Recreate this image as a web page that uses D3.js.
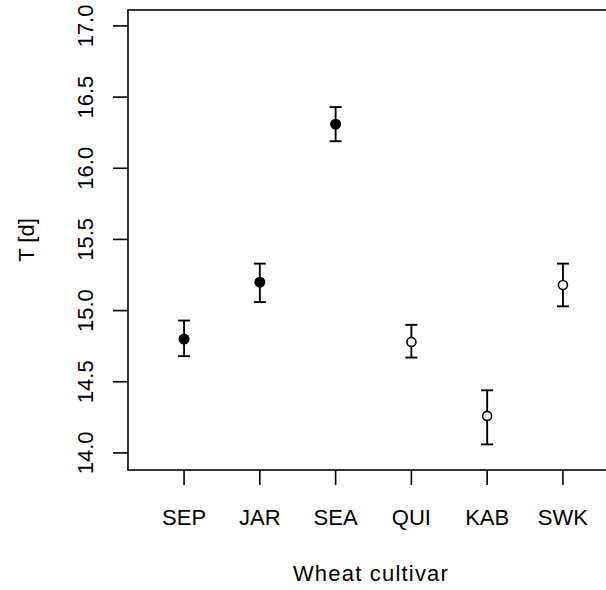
<!DOCTYPE html>
<html lang="en">
<head>
<meta charset="UTF-8">
<title>T by wheat cultivar</title>
<style>
  body { margin: 0; background: #fff; overflow: hidden; }
  text { font-family: 'Liberation Sans', Arial, sans-serif; fill: #000; }
</style>
<script src="https://d3js.org/d3.v7.min.js"></script>
</head>
<body>
<div id="chart"></div>
<script>
const cultivars = ["SEP", "JAR", "SEA", "QUI", "KAB", "SWK"];
const means = [14.80, 15.20, 16.31, 14.78, 14.26, 15.18];
const lower = [14.68, 15.06, 16.19, 14.67, 14.06, 15.03];
const upper = [14.93, 15.33, 16.43, 14.90, 14.44, 15.33];
const filled = [true, true, true, false, false, false];
const yTicks = [14.0, 14.5, 15.0, 15.5, 16.0, 16.5, 17.0];

const width = 606, height = 590;
const fontSize = 22;

const svg = d3.select("#chart").append("svg")
    .attr("width", width)
    .attr("height", height);

// plot box (right side runs off the picture, as in the original)
const boxLeft = 128, boxTop = 10, boxBottom = 470, boxRight = 619;

const x = d3.scaleLinear().domain([0.26, 6.74]).range([boxLeft, boxRight]);
const y = d3.scaleLinear().domain([13.88, 17.112]).range([boxBottom, boxTop]);

svg.append("rect")
    .attr("x", boxLeft).attr("y", boxTop)
    .attr("width", boxRight - boxLeft).attr("height", boxBottom - boxTop)
    .attr("fill", "none").attr("stroke", "#000").attr("stroke-width", 1.6);

// y axis
const yAxis = svg.append("g");
yAxis.selectAll("line").data(yTicks).enter().append("line")
    .attr("x1", boxLeft - 15).attr("x2", boxLeft)
    .attr("y1", d => y(d)).attr("y2", d => y(d))
    .attr("stroke", "#000").attr("stroke-width", 1.6);
yAxis.selectAll("text").data(yTicks).enter().append("text")
    .attr("transform", d => `translate(85,${y(d)}) rotate(-90)`)
    .attr("text-anchor", "middle")
    .attr("dy", "0.36em")
    .attr("font-size", fontSize)
    .text(d => d.toFixed(1));

// x axis
const xAxis = svg.append("g");
xAxis.selectAll("line").data(cultivars).enter().append("line")
    .attr("x1", (d, i) => x(i + 1)).attr("x2", (d, i) => x(i + 1))
    .attr("y1", boxBottom).attr("y2", boxBottom + 15)
    .attr("stroke", "#000").attr("stroke-width", 1.6);
xAxis.selectAll("text").data(cultivars).enter().append("text")
    .attr("x", (d, i) => x(i + 1))
    .attr("y", 525)
    .attr("text-anchor", "middle")
    .attr("font-size", fontSize)
    .text(d => d);

// axis titles
svg.append("text")
    .attr("x", 371)
    .attr("y", 581)
    .attr("text-anchor", "middle")
    .attr("font-size", fontSize)
    .attr("letter-spacing", 1.2)
    .text("Wheat cultivar");

svg.append("text")
    .attr("transform", `translate(26,240) rotate(-90)`)
    .attr("text-anchor", "middle")
    .attr("dy", "0.36em")
    .attr("font-size", fontSize)
    .text("T [d]");

// error bars
const bars = svg.append("g").attr("stroke", "#000").attr("stroke-width", 1.9);
cultivars.forEach((c, i) => {
    const cx = x(i + 1);
    bars.append("line").attr("x1", cx).attr("x2", cx)
        .attr("y1", y(lower[i])).attr("y2", y(upper[i]));
    bars.append("line").attr("x1", cx - 6).attr("x2", cx + 6)
        .attr("y1", y(lower[i])).attr("y2", y(lower[i]));
    bars.append("line").attr("x1", cx - 6).attr("x2", cx + 6)
        .attr("y1", y(upper[i])).attr("y2", y(upper[i]));
});

// points
svg.selectAll(".pt").data(cultivars).enter().append("circle")
    .attr("class", "pt")
    .attr("cx", (d, i) => x(i + 1))
    .attr("cy", (d, i) => y(means[i]))
    .attr("r", (d, i) => filled[i] ? 5.5 : 4.5)
    .attr("fill", (d, i) => filled[i] ? "#000" : "#fff")
    .attr("stroke", "#000")
    .attr("stroke-width", (d, i) => filled[i] ? 0 : 1.6);
</script>
</body>
</html>
